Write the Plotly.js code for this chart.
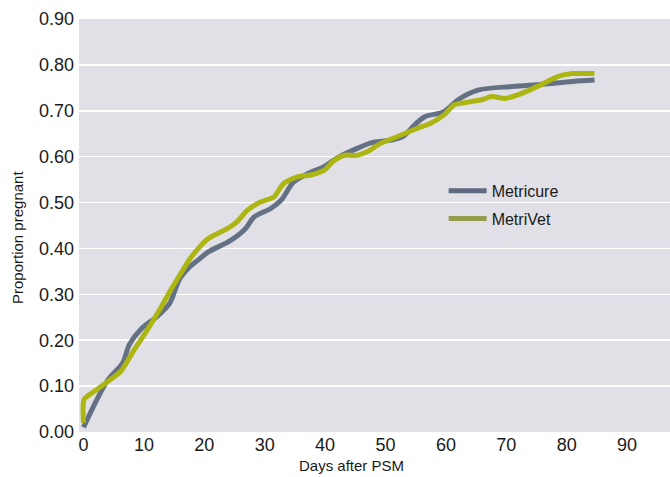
<!DOCTYPE html>
<html>
<head>
<meta charset="utf-8">
<script src="https://cdn.plot.ly/plotly-3.0.1.min.js"></script>
<style>html,body{margin:0;padding:0;background:#fff;}#chart{width:670px;height:477px;}</style>
</head>
<body>
<div id="chart"></div>
<script>
// Data
var seriesNames = ["Metricure", "MetriVet"];
var metricureDays = [0, 3.9, 6.5, 7.6, 9.5, 12.0, 14.2, 15.9, 17.6, 18.9, 20.6, 24.3, 26.8, 28.2, 31.0, 32.7, 34.8, 37.1, 39.8, 42.1, 45.3, 47.6, 50.9, 52.9, 54.8, 56.5, 59.7, 62.0, 65.3, 71.0, 76.0, 81.0, 84.6];
var metricureValues = [0.01, 0.111, 0.151, 0.191, 0.224, 0.250, 0.279, 0.333, 0.360, 0.374, 0.392, 0.417, 0.443, 0.468, 0.487, 0.505, 0.545, 0.563, 0.578, 0.598, 0.618, 0.630, 0.636, 0.644, 0.669, 0.687, 0.698, 0.724, 0.745, 0.753, 0.758, 0.764, 0.767];
var metrivetDays = [0, 0.1, 1.5, 3.7, 6.2, 8.1, 10.3, 12.5, 14.2, 15.9, 17.6, 19.2, 20.6, 23.8, 25.4, 27.1, 29.3, 31.5, 33.1, 35.4, 37.6, 39.8, 41.5, 43.2, 45.3, 47.0, 49.2, 52.0, 55.3, 57.5, 59.7, 61.4, 64.2, 65.9, 67.6, 69.8, 72.0, 75.8, 78.6, 80.9, 84.6];
var metrivetValues = [0.02, 0.071, 0.086, 0.107, 0.133, 0.173, 0.217, 0.264, 0.304, 0.341, 0.377, 0.403, 0.421, 0.443, 0.458, 0.483, 0.501, 0.512, 0.541, 0.556, 0.560, 0.570, 0.592, 0.603, 0.603, 0.611, 0.629, 0.644, 0.662, 0.673, 0.691, 0.713, 0.720, 0.724, 0.731, 0.727, 0.735, 0.757, 0.775, 0.781, 0.781];
var xTickValues = [0, 10, 20, 30, 40, 50, 60, 70, 80, 90];
var xTickLabels = ["0", "10", "20", "30", "40", "50", "60", "70", "80", "90"];
var yTickValues = [0, 0.1, 0.2, 0.3, 0.4, 0.5, 0.6, 0.7, 0.8, 0.9];
var yTickLabels = ["0.00", "0.10", "0.20", "0.30", "0.40", "0.50", "0.60", "0.70", "0.80", "0.90"];
var xAxisTitle = "Days after PSM";
var yAxisTitle = "Proportion pregnant";

var FONT = "Liberation Sans, Arial, sans-serif";
var lineColors = ["#647083", "#adb512"];
var legendColors = ["#5f6a80", "#979d4f"];

var traces = [
  {x: metricureDays, y: metricureValues, type: "scatter", mode: "lines",
   line: {color: lineColors[0], width: 5, shape: "spline", smoothing: 0.9},
   showlegend: false, hoverinfo: "skip"},
  {x: metrivetDays, y: metrivetValues, type: "scatter", mode: "lines",
   line: {color: lineColors[1], width: 5, shape: "spline", smoothing: 0.7},
   showlegend: false, hoverinfo: "skip"},
  {x: [null], y: [null], type: "scatter", mode: "lines", name: seriesNames[0],
   legendgroup: "a", line: {color: legendColors[0], width: 5}},
  {x: [null], y: [null], type: "scatter", mode: "lines", name: seriesNames[1],
   legendgroup: "b", line: {color: legendColors[1], width: 5}}
];

var layout = {
  width: 670, height: 477,
  margin: {l: 79, r: 0, t: 19, b: 45, pad: 0},
  paper_bgcolor: "#ffffff",
  plot_bgcolor: "#e0e0e6",
  font: {family: FONT, color: "#1a1a1a"},
  showlegend: true,
  legend: {x: 0.617, y: 0.625, xanchor: "left", yanchor: "top",
           bgcolor: "rgba(0,0,0,0)", font: {family: FONT, size: 16, color: "#1a1a1a"},
           traceorder: "grouped", tracegroupgap: 4, itemwidth: 38},
  xaxis: {range: [-0.75, 97.1], tickmode: "array", tickvals: xTickValues, ticktext: xTickLabels,
          showgrid: false, zeroline: false, showline: false, ticks: "",
          tickfont: {family: FONT, size: 18, color: "#1a1a1a"}, fixedrange: true},
  yaxis: {range: [0, 0.9], tickmode: "array", tickvals: yTickValues, ticktext: yTickLabels,
          showgrid: true, gridcolor: "#ffffff", gridwidth: 1.5, zeroline: false, showline: false,
          ticks: "", ticklabelstandoff: 4,
          tickfont: {family: FONT, size: 18, color: "#1a1a1a"}, fixedrange: true},
  annotations: [
    {text: xAxisTitle, xref: "paper", yref: "paper", x: 0.461, y: -0.081,
     xanchor: "center", yanchor: "middle", showarrow: false,
     font: {family: FONT, size: 15, color: "#1a1a1a"}},
    {text: yAxisTitle, xref: "paper", yref: "paper", x: -0.103, y: 0.47,
     xanchor: "center", yanchor: "middle", showarrow: false, textangle: -90,
     font: {family: FONT, size: 15, color: "#1a1a1a"}}
  ]
};

Plotly.newPlot("chart", traces, layout, {displayModeBar: false, staticPlot: true});
</script>
</body>
</html>
